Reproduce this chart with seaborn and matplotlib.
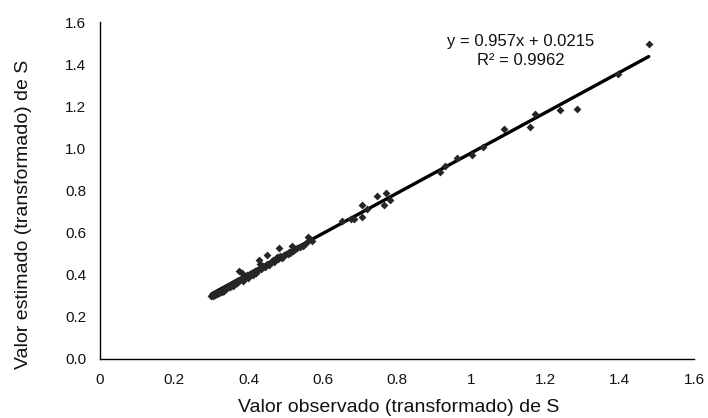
import matplotlib
matplotlib.use("Agg")
import matplotlib.pyplot as plt
import seaborn as sns
import pandas as pd

observed = [
    0.300, 0.302, 0.305, 0.307, 0.310, 0.312, 0.315, 0.318, 0.320, 0.322,
    0.325, 0.328, 0.330, 0.333, 0.335, 0.338, 0.340, 0.343, 0.345, 0.348,
    0.350, 0.353, 0.355, 0.358, 0.360, 0.363, 0.365, 0.368, 0.370, 0.372,
    0.375, 0.376, 0.380, 0.382, 0.385, 0.388, 0.390, 0.395, 0.398, 0.400,
    0.405, 0.409, 0.412, 0.415, 0.418, 0.420, 0.425, 0.428, 0.431, 0.433,
    0.438, 0.440, 0.445, 0.449, 0.450, 0.455, 0.460, 0.465, 0.470, 0.476,
    0.480, 0.482, 0.486, 0.490, 0.495, 0.500, 0.507, 0.508, 0.512, 0.518,
    0.520, 0.525, 0.530, 0.540, 0.548, 0.555, 0.561, 0.566, 0.570,
    0.652, 0.676, 0.685, 0.706, 0.706, 0.719, 0.747, 0.764, 0.771, 0.782,
    0.916, 0.930, 0.961, 1.003, 1.032, 1.089, 1.157, 1.171, 1.238, 1.285,
    1.394, 1.478,
]
estimated = [
    0.297, 0.303, 0.300, 0.308, 0.305, 0.312, 0.309, 0.318, 0.314, 0.320,
    0.324, 0.318, 0.328, 0.325, 0.333, 0.330, 0.338, 0.335, 0.342, 0.346,
    0.340, 0.350, 0.355, 0.348, 0.360, 0.356, 0.364, 0.368, 0.362, 0.372,
    0.419, 0.376, 0.380, 0.410, 0.372, 0.385, 0.390, 0.399, 0.386, 0.395,
    0.402, 0.407, 0.400, 0.412, 0.418, 0.410, 0.422, 0.470, 0.451, 0.428,
    0.435, 0.442, 0.438, 0.494, 0.452, 0.448, 0.460, 0.470, 0.462, 0.483,
    0.475, 0.526, 0.488, 0.480, 0.492, 0.497, 0.499, 0.510, 0.505, 0.538,
    0.515, 0.520, 0.525, 0.530, 0.537, 0.550, 0.578, 0.570, 0.560,
    0.657, 0.666, 0.663, 0.674, 0.730, 0.714, 0.774, 0.730, 0.790, 0.755,
    0.887, 0.918, 0.956, 0.967, 1.008, 1.091, 1.103, 1.162, 1.182, 1.189,
    1.352, 1.496,
]
slope = 0.957
intercept = 0.0215
r_squared = 0.9962
x_ticks = [0, 0.2, 0.4, 0.6, 0.8, 1.0, 1.2, 1.4, 1.6]
x_tick_labels = ["0", "0.2", "0.4", "0.6", "0.8", "1", "1.2", "1.4", "1.6"]
y_ticks = [0, 0.2, 0.4, 0.6, 0.8, 1.0, 1.2, 1.4, 1.6]
y_tick_labels = ["0.0", "0.2", "0.4", "0.6", "0.8", "1.0", "1.2", "1.4", "1.6"]
x_label = "Valor observado (transformado) de S"
y_label = "Valor estimado (transformado) de S"

sns.set_style("white")
plt.rcParams["font.family"] = ["Liberation Sans", "DejaVu Sans"]

df = pd.DataFrame({"obs": observed, "est": estimated})
xmin, xmax = min(observed), max(observed)
trend = pd.DataFrame({"obs": [xmin, xmax],
                      "est": [slope * xmin + intercept, slope * xmax + intercept]})

fig = plt.figure(figsize=(7.08, 4.18), dpi=100)
ax = fig.add_axes([100 / 708, 59 / 418, 594 / 708, 337 / 418])

sns.lineplot(data=trend, x="obs", y="est", ax=ax, color="black", linewidth=2.4, zorder=2)
sns.scatterplot(data=df, x="obs", y="est", ax=ax, marker="D", s=16,
                color="#262626", linewidth=0, zorder=3)

ax.set_xlim(0, 1.6)
ax.set_ylim(0, 1.6)
ax.set_xticks(x_ticks)
ax.set_xticklabels(x_tick_labels)
ax.set_yticks(y_ticks)
ax.set_yticklabels(y_tick_labels)
ax.tick_params(axis="both", direction="out", length=4, width=0.8, color="#999999",
               labelsize=11, labelcolor="#111111", pad=6)

for side in ["top", "right"]:
    ax.spines[side].set_visible(False)
for side in ["left", "bottom"]:
    ax.spines[side].set_color("black")
    ax.spines[side].set_linewidth(1.0)

ax.set_xlabel(x_label, fontsize=14, color="#111111", va="center")
ax.set_ylabel(y_label, fontsize=14, color="#111111", va="center")
ax.xaxis.set_label_coords(0.503, -0.145)
ax.yaxis.set_label_coords(-0.128, 0.43)

ax.text(1.134, 1.461, f"y = {slope}x + {intercept}\nR² = {r_squared}",
        ha="center", va="center", fontsize=12, color="#111111", linespacing=1.3)

fig.savefig("out.png", dpi=100)
